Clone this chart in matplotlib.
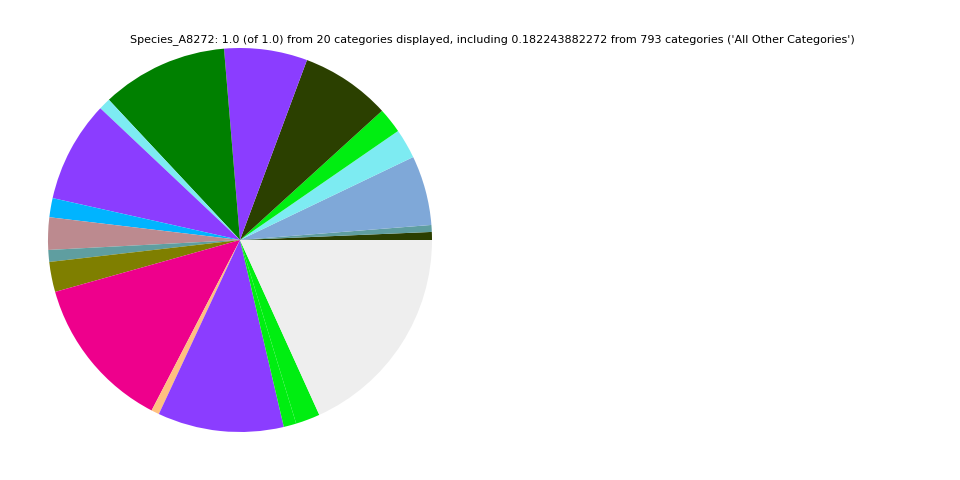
import matplotlib
matplotlib.use("Agg")
import matplotlib.pyplot as plt

# shares of each category, counter-clockwise from 3 o'clock
shares = [0.0067, 0.0058, 0.0586, 0.0250, 0.0214, 0.0758, 0.0700, 0.1064,
          0.0100, 0.0853, 0.0161, 0.0272, 0.0100, 0.0253, 0.1303, 0.0067,
          0.1061, 0.0106, 0.0205, 0.182243882272]
colours = ["#2b3f00", "#5f9ea0", "#7fa8d8", "#7debf2", "#00ee11", "#2b4000",
           "#8b3dff", "#008000", "#7debf2", "#8b3dff", "#00b4ff", "#bc8a8f",
           "#5f9ea0", "#7f7f00", "#ee008c", "#ffc080", "#8b3dff", "#00ee11",
           "#00ee11", "#eeeeee"]
title = ("Species_A8272: 1.0 (of 1.0) from 20 categories displayed, including "
         "0.182243882272 from 793 categories ('All Other Categories')")

fig = plt.figure(figsize=(9.6, 4.8), dpi=100)
ax = fig.add_axes([48 / 960, 48 / 480, 384 / 960, 384 / 480])
ax.pie(shares, colors=colours, startangle=0, counterclock=True)
ax.set_xlim(-1, 1)
ax.set_ylim(-1, 1)
ax.set_aspect("equal")
ax.axis("off")

fig.text(0.5125, 0.917, title, ha="center", va="center", fontsize=8)

fig.savefig("out.png", dpi=100)
